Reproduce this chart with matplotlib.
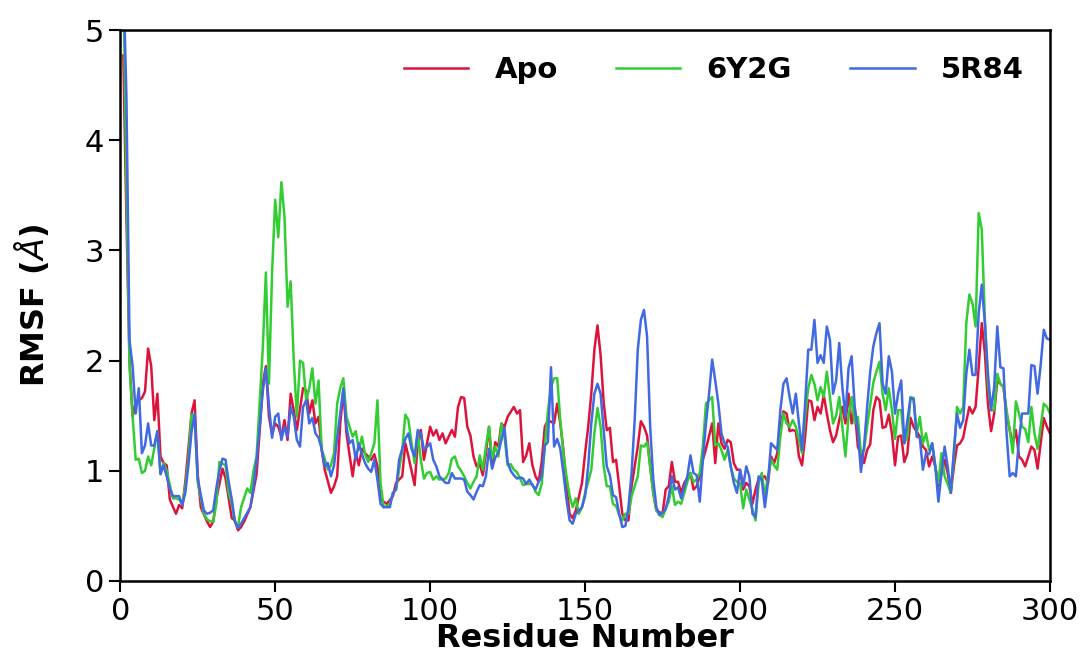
"""
RMSF per residue for Apo, 6Y2G and 5R84
"""

import matplotlib
matplotlib.use('Agg')
import matplotlib.pyplot as plt

# Apo
apo_res = [1, 2, 3, 4, 5, 7, 8, 9, 10, 11, 12, 13, 14, 15, 16, 18, 19, 20, 21, 22,
           23, 24, 25, 26, 28, 29, 30, 31, 33, 34, 36, 37, 38, 39, 40, 42, 44, 45, 46, 47,
           48, 49, 50, 51, 52, 53, 54, 55, 56, 57, 59, 60, 61, 62, 63, 64, 65, 66, 68, 69,
           70, 71, 72, 73, 75, 76, 77, 78, 79, 81, 82, 83, 84, 86, 88, 89, 91, 92, 93, 95,
           96, 97, 98, 100, 101, 102, 103, 104, 105, 106, 107, 108, 109, 110, 111, 112, 113, 114, 115, 116,
           117, 118, 119, 120, 121, 122, 123, 124, 125, 127, 128, 129, 130, 131, 132, 133, 134, 135, 136, 137,
           138, 140, 141, 142, 143, 144, 145, 146, 147, 149, 150, 151, 152, 153, 154, 155, 156, 157, 158, 159,
           160, 161, 162, 163, 164, 165, 166, 167, 168, 169, 170, 171, 172, 173, 175, 176, 177, 178, 179, 180,
           181, 182, 184, 185, 186, 187, 188, 189, 191, 192, 193, 194, 195, 196, 197, 198, 199, 200, 201, 202,
           203, 204, 205, 206, 208, 209, 210, 211, 212, 213, 214, 215, 216, 217, 218, 219, 220, 221, 222, 223,
           224, 225, 226, 227, 228, 229, 230, 231, 232, 233, 234, 235, 236, 237, 238, 240, 241, 242, 243, 244,
           245, 246, 247, 248, 249, 250, 251, 252, 253, 254, 255, 256, 258, 259, 260, 261, 262, 263, 264, 266,
           267, 268, 269, 270, 271, 272, 273, 274, 275, 276, 277, 278, 279, 280, 281, 282, 283, 284, 285, 286,
           287, 288, 289, 290, 291, 292, 294, 295, 296, 297, 298, 299, 300, 302]
apo_rmsf = [4.77, 3.30, 2.00, 1.49, 1.62, 1.66, 1.72, 2.11, 1.95, 1.46, 1.70, 1.13, 1.07, 1.05, 0.74, 0.61, 0.69, 0.66, 0.90, 1.20,
            1.52, 1.64, 0.97, 0.67, 0.54, 0.49, 0.54, 0.74, 1.02, 0.93, 0.57, 0.55, 0.46, 0.49, 0.54, 0.67, 0.97, 1.36, 1.79, 1.95,
            1.49, 1.33, 1.43, 1.40, 1.31, 1.46, 1.28, 1.70, 1.55, 1.37, 1.75, 1.73, 1.52, 1.64, 1.43, 1.49, 1.19, 1.01, 0.80, 0.86,
            0.95, 1.43, 1.73, 1.34, 0.95, 1.16, 1.05, 1.20, 1.16, 1.10, 1.15, 1.04, 0.74, 0.70, 0.77, 0.89, 0.95, 1.25, 1.13, 0.87,
            1.25, 1.37, 1.10, 1.40, 1.32, 1.37, 1.28, 1.34, 1.25, 1.31, 1.37, 1.31, 1.58, 1.67, 1.66, 1.40, 1.32, 1.13, 1.04, 1.06,
            0.96, 1.16, 1.40, 1.04, 1.26, 1.22, 1.43, 1.40, 1.49, 1.58, 1.52, 1.55, 1.08, 1.14, 1.25, 1.05, 0.95, 0.90, 1.08, 1.40,
            1.46, 1.43, 1.61, 1.43, 1.19, 0.86, 0.61, 0.57, 0.64, 0.89, 1.16, 1.40, 1.70, 2.10, 2.32, 2.05, 1.62, 1.37, 1.39, 1.08,
            1.10, 0.86, 0.61, 0.55, 0.55, 0.86, 1.04, 1.22, 1.45, 1.40, 1.32, 1.04, 0.80, 0.64, 0.61, 0.83, 0.86, 1.08, 0.90, 0.90,
            0.80, 0.89, 0.98, 0.83, 0.86, 0.95, 1.10, 1.20, 1.43, 1.07, 1.43, 1.25, 1.20, 1.28, 1.26, 1.07, 1.01, 1.01, 0.83, 0.89,
            0.86, 0.70, 0.83, 0.93, 0.95, 0.89, 1.13, 1.07, 1.16, 1.40, 1.54, 1.52, 1.36, 1.37, 1.36, 1.13, 1.05, 1.31, 1.64, 1.63,
            1.46, 1.58, 1.52, 1.69, 1.52, 1.37, 1.26, 1.32, 1.46, 1.58, 1.43, 1.70, 1.43, 1.57, 1.22, 1.07, 1.19, 1.24, 1.55, 1.67,
            1.64, 1.39, 1.40, 1.51, 1.34, 1.05, 1.31, 1.32, 1.08, 1.16, 1.48, 1.40, 1.31, 1.22, 1.19, 1.04, 1.13, 1.04, 0.86, 1.10,
            0.98, 0.80, 1.04, 1.23, 1.25, 1.30, 1.45, 1.58, 1.52, 1.58, 1.94, 2.34, 2.07, 1.60, 1.36, 1.52, 1.82, 1.79, 1.76, 1.52,
            1.37, 1.25, 1.37, 1.13, 1.10, 1.04, 1.22, 1.19, 1.02, 1.25, 1.48, 1.40, 1.34, 1.30]

# 6Y2G
y2g_res = [1, 2, 3, 4, 5, 6, 7, 8, 9, 10, 12, 13, 14, 15, 16, 17, 18, 19, 20, 21,
           22, 23, 24, 25, 27, 28, 29, 30, 31, 32, 34, 35, 36, 37, 38, 39, 41, 42, 43, 44,
           46, 47, 48, 49, 50, 51, 52, 53, 54, 55, 56, 57, 58, 59, 60, 61, 62, 63, 64, 65,
           66, 67, 68, 69, 70, 71, 72, 73, 74, 75, 76, 77, 78, 79, 80, 81, 82, 83, 84, 85,
           86, 87, 88, 89, 90, 91, 92, 93, 94, 95, 96, 97, 98, 99, 100, 101, 102, 103, 105, 106,
           107, 108, 109, 110, 111, 112, 113, 114, 115, 116, 117, 118, 119, 120, 121, 122, 123, 124, 125, 126,
           127, 128, 130, 131, 133, 134, 135, 136, 137, 138, 139, 140, 141, 142, 143, 144, 145, 146, 147, 148,
           149, 150, 151, 152, 153, 154, 155, 156, 157, 158, 159, 160, 161, 162, 163, 164, 165, 166, 167, 168,
           169, 170, 171, 172, 173, 174, 175, 176, 177, 178, 179, 180, 181, 182, 183, 184, 185, 186, 187, 188,
           189, 190, 191, 192, 193, 194, 195, 196, 197, 198, 199, 200, 201, 202, 203, 204, 205, 206, 207, 208,
           209, 210, 211, 212, 213, 214, 215, 216, 217, 218, 219, 220, 221, 222, 223, 224, 225, 226, 227, 228,
           229, 230, 231, 232, 233, 234, 235, 236, 237, 238, 239, 240, 241, 242, 243, 244, 245, 246, 247, 248,
           249, 250, 251, 252, 253, 254, 255, 256, 257, 258, 259, 260, 261, 262, 263, 264, 265, 266, 267, 268,
           269, 270, 271, 272, 273, 274, 275, 276, 277, 278, 279, 280, 281, 282, 283, 284, 285, 286, 287, 288,
           289, 290, 291, 292, 293, 294, 295, 296, 297, 298, 299, 300, 302]
y2g_rmsf = [5.50, 3.60, 1.95, 1.49, 1.10, 1.11, 0.98, 1.00, 1.13, 1.05, 1.36, 0.97, 1.07, 1.00, 0.87, 0.75, 0.75, 0.74, 0.70, 0.85,
            1.10, 1.51, 1.49, 0.90, 0.61, 0.56, 0.54, 0.54, 0.70, 1.08, 1.05, 0.80, 0.70, 0.54, 0.49, 0.67, 0.84, 0.80, 1.00, 1.13,
            2.11, 2.80, 1.79, 2.80, 3.46, 3.12, 3.62, 3.31, 2.49, 2.72, 2.00, 1.49, 2.00, 1.98, 1.64, 1.75, 1.93, 1.61, 1.82, 1.19,
            1.11, 1.01, 1.05, 1.16, 1.61, 1.75, 1.84, 1.49, 1.40, 1.31, 1.36, 1.19, 1.31, 1.15, 1.08, 1.16, 1.25, 1.64, 0.89, 0.67,
            0.68, 0.70, 0.80, 0.83, 1.01, 1.19, 1.51, 1.46, 1.25, 1.07, 1.34, 1.10, 0.93, 0.98, 0.99, 0.92, 0.95, 0.92, 0.93, 0.98,
            1.11, 1.13, 1.04, 1.00, 0.95, 0.89, 0.84, 0.90, 0.95, 1.14, 1.01, 1.22, 1.40, 1.11, 1.22, 1.13, 1.43, 1.31, 1.05, 1.06,
            1.01, 0.99, 0.87, 0.88, 0.88, 0.81, 0.78, 0.88, 1.22, 1.54, 1.76, 1.84, 1.84, 1.46, 1.16, 0.95, 0.77, 0.67, 0.75, 0.61,
            0.67, 0.80, 0.90, 1.01, 1.34, 1.57, 1.40, 1.04, 0.86, 0.86, 0.70, 0.68, 0.60, 0.55, 0.61, 0.61, 0.77, 0.86, 0.95, 1.23,
            1.22, 1.26, 1.04, 0.80, 0.64, 0.60, 0.58, 0.66, 0.72, 0.86, 0.69, 0.72, 0.70, 0.80, 0.90, 0.98, 0.90, 0.92, 0.98, 1.22,
            1.61, 1.64, 1.67, 1.23, 1.25, 1.19, 1.10, 1.19, 1.04, 0.93, 0.90, 0.89, 0.66, 0.83, 0.74, 0.65, 0.55, 0.89, 0.98, 0.77,
            0.95, 1.10, 1.05, 1.01, 1.31, 1.52, 1.43, 1.40, 1.46, 1.40, 1.28, 1.16, 1.49, 1.75, 1.87, 1.79, 1.64, 1.76, 1.67, 1.90,
            1.67, 1.43, 1.50, 1.67, 1.40, 1.13, 1.49, 1.67, 1.43, 1.49, 1.16, 1.19, 1.40, 1.60, 1.80, 1.90, 1.99, 1.70, 1.55, 1.75,
            1.55, 1.29, 1.55, 1.55, 1.25, 1.31, 1.67, 1.66, 1.34, 1.49, 1.25, 1.34, 1.19, 1.25, 1.04, 0.89, 1.16, 0.95, 0.88, 0.80,
            1.13, 1.58, 1.52, 1.58, 2.34, 2.60, 2.52, 2.31, 3.34, 3.19, 2.37, 1.79, 1.55, 1.55, 1.88, 1.79, 1.76, 1.55, 1.37, 1.16,
            1.63, 1.52, 1.40, 1.38, 1.26, 1.58, 1.34, 1.20, 1.40, 1.61, 1.58, 1.52, 1.50]

# 5R84 (every residue 1-300, plus 302)
r84_res = list(range(1, 301)) + [302]
r84_rmsf = [5.50, 4.40, 2.18, 1.95, 1.52, 1.75, 1.16, 1.23, 1.43, 1.23, 1.23, 1.36, 0.97, 1.05, 0.95, 0.84, 0.77, 0.77, 0.77, 0.69,
            0.80, 1.05, 1.35, 1.52, 0.93, 0.78, 0.64, 0.61, 0.62, 0.64, 0.84, 1.00, 1.11, 1.10, 0.90, 0.74, 0.54, 0.48, 0.52, 0.57,
            0.62, 0.67, 0.85, 1.10, 1.40, 1.72, 1.93, 1.59, 1.30, 1.49, 1.52, 1.28, 1.40, 1.31, 1.58, 1.49, 1.28, 1.22, 1.58, 1.64,
            1.43, 1.48, 1.34, 1.30, 1.20, 1.04, 1.07, 0.95, 1.05, 1.30, 1.52, 1.75, 1.40, 1.25, 1.28, 1.10, 1.25, 1.15, 1.07, 1.02,
            0.99, 1.10, 0.92, 0.70, 0.67, 0.67, 0.67, 0.80, 0.83, 1.10, 1.20, 1.29, 1.34, 1.20, 1.13, 1.37, 1.34, 1.19, 1.22, 1.25,
            1.10, 1.04, 0.95, 0.92, 0.89, 0.89, 0.98, 0.93, 0.93, 0.93, 0.92, 0.81, 0.78, 0.74, 0.81, 0.87, 0.86, 0.95, 1.20, 1.02,
            1.12, 1.16, 1.28, 1.39, 1.08, 1.00, 0.96, 0.93, 0.94, 0.93, 0.88, 0.92, 0.87, 0.83, 0.90, 0.95, 1.23, 1.26, 1.94, 1.22,
            1.29, 1.20, 0.98, 0.74, 0.55, 0.52, 0.61, 0.64, 0.67, 0.77, 1.04, 1.43, 1.70, 1.79, 1.70, 1.37, 1.04, 0.96, 0.78, 0.76,
            0.61, 0.49, 0.50, 0.67, 0.98, 1.46, 2.10, 2.37, 2.46, 2.22, 1.40, 0.92, 0.67, 0.60, 0.62, 0.65, 0.77, 0.95, 0.83, 0.85,
            0.75, 0.85, 0.95, 1.14, 0.98, 0.96, 0.72, 1.10, 1.43, 1.70, 2.01, 1.82, 1.61, 1.34, 1.25, 1.22, 1.04, 0.89, 0.80, 1.01,
            0.86, 1.04, 0.95, 0.61, 0.58, 0.95, 0.92, 0.67, 0.89, 1.25, 1.22, 1.19, 1.55, 1.79, 1.84, 1.67, 1.52, 1.70, 1.43, 1.19,
            1.61, 2.10, 2.10, 2.37, 1.98, 2.05, 1.98, 2.31, 2.19, 1.70, 1.82, 2.16, 1.76, 1.49, 1.93, 2.04, 1.58, 1.37, 0.99, 1.22,
            1.58, 1.90, 2.13, 2.25, 2.34, 1.79, 1.70, 2.04, 1.90, 1.52, 1.70, 1.82, 1.25, 1.46, 1.66, 1.65, 1.31, 1.30, 1.01, 1.16,
            1.15, 1.25, 1.04, 0.72, 0.98, 1.22, 1.04, 0.80, 1.19, 1.52, 1.39, 1.46, 1.88, 2.10, 1.87, 1.87, 2.43, 2.69, 2.34, 1.88,
            1.55, 1.76, 2.31, 1.94, 1.93, 1.34, 0.95, 0.98, 0.95, 1.28, 1.52, 1.52, 1.52, 1.96, 1.95, 1.70, 1.96, 2.28, 2.20, 2.19,
            2.20]

series = [
    ('Apo', apo_res, apo_rmsf, '#DC143C'),
    ('6Y2G', y2g_res, y2g_rmsf, '#32CD32'),
    ('5R84', r84_res, r84_rmsf, '#4169E1'),
]

fig = plt.figure(figsize=(10.83, 6.55), dpi=100)
ax = fig.add_axes([0.111, 0.113, 0.8585, 0.841])

for name, res, vals, color in series:
    ax.plot(res, vals, color=color, linewidth=1.8, label=name)

ax.set_xlim(0, 300)
ax.set_ylim(0, 5)
ax.set_xticks([0, 50, 100, 150, 200, 250, 300])
ax.set_yticks([0, 1, 2, 3, 4, 5])

ax.tick_params(axis='both', labelsize=22, width=1.5, length=8, direction='out')
for spine in ax.spines.values():
    spine.set_linewidth(1.8)

ax.set_xlabel('Residue Number', fontsize=23, fontweight='bold', labelpad=-2)
ax.set_ylabel('RMSF ($Å$)', fontsize=23, fontweight='bold', labelpad=24)

leg = ax.legend(loc='upper right', ncol=3, frameon=False,
                prop={'weight': 'bold', 'size': 21},
                handlelength=2.2, handletextpad=0.9, columnspacing=2.0)

fig.savefig('out.png', dpi=100)
plt.close(fig)
